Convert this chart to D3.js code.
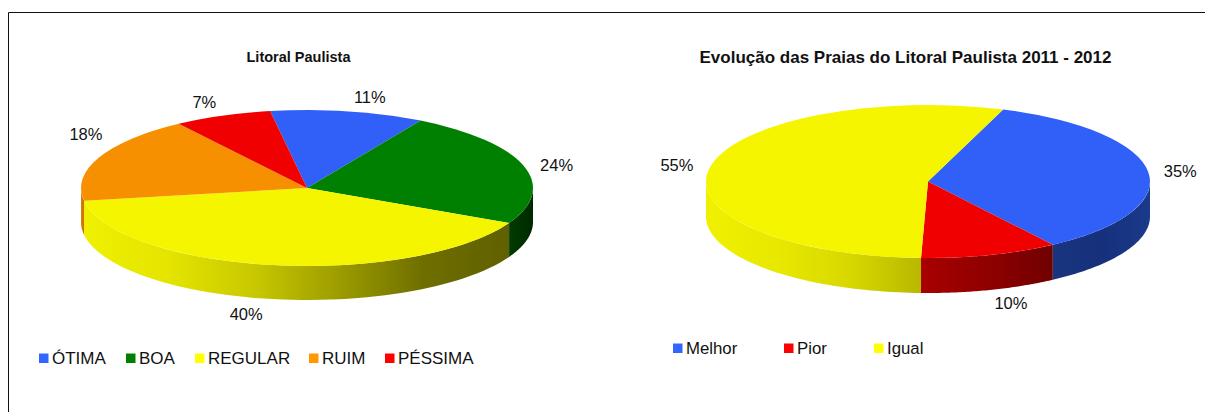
<!DOCTYPE html>
<html>
<head>
<meta charset="utf-8">
<script src="https://cdn.jsdelivr.net/npm/d3@7"></script>
<style>
    html, body { margin: 0; padding: 0; background: #fff; }
    svg { display: block; }
    text { font-family: "Liberation Sans", Arial, sans-serif; fill: #111; }
</style>
</head>
<body>
<svg id="svgid" width="1205" height="412"></svg>
<script>
    // litoral paulista
    var litoralNames = ['ÓTIMA', 'BOA', 'REGULAR', 'RUIM', 'PÉSSIMA'];
    var litoralValues = [11, 24, 40, 18, 7];
    // evolucao 2011 - 2012
    var evolucaoNames = ['Melhor', 'Pior', 'Igual'];
    var evolucaoValues = [35, 10, 55];

    var svg = d3.select('#svgid'),
        defs = svg.append('defs'),
        toRad = Math.PI / 180,
        gradId = 0;

    var colors = {
        'ÓTIMA': '#3060f8', 'BOA': '#008000', 'REGULAR': '#f5f500', 'RUIM': '#f79000', 'PÉSSIMA': '#f00000',
        'Melhor': '#3060f8', 'Pior': '#f00000', 'Igual': '#f5f500'
    };
    var legendColors = {
        'ÓTIMA': '#3366ff', 'BOA': '#008000', 'REGULAR': '#ffff00', 'RUIM': '#ff9900', 'PÉSSIMA': '#ff0000',
        'Melhor': '#3366ff', 'Pior': '#ff0000', 'Igual': '#ffff00'
    };

    // frame of the whole picture, open on the right and at the bottom
    svg.append('path')
        .attr('d', 'M8.5,412V12.5H1205')
        .attr('fill', 'none')
        .attr('stroke', '#111')
        .attr('stroke-width', 1);

    function sideGradient(stops, x0, x1) {
        var id = 'side' + (gradId++),
            g = defs.append('linearGradient')
                .attr('id', id)
                .attr('gradientUnits', 'userSpaceOnUse')
                .attr('x1', x0).attr('x2', x1)
                .attr('y1', 0).attr('y2', 0);
        stops.forEach(function (s, i) {
            g.append('stop')
                .attr('offset', i / (stops.length - 1))
                .attr('stop-color', s);
        });
        return 'url(#' + id + ')';
    }

    function drawPie(opt) {
        var g = svg.append('g'),
            pie = d3.pie().sort(null)
                .startAngle(opt.start * toRad)
                .endAngle((opt.start + 360) * toRad),
            arcs = pie(opt.values),
            rx = opt.rx, ry = opt.ry, cx = opt.cx, cy = opt.cy,
            arc = d3.arc().innerRadius(0).outerRadius(rx);

        function px(a) { return cx + rx * Math.sin(a); }
        function py(a) { return cy - ry * Math.cos(a); }

        // side wall: only the part of the rim that faces the viewer
        arcs.forEach(function (d, i) {
            var lo = Math.max(d.startAngle, Math.PI / 2),
                hi = Math.min(d.endAngle, Math.PI * 1.5);
            if (hi <= lo) return;
            var angles = d3.range(0, 61).map(function (k) { return lo + (hi - lo) * k / 60; }),
                line = d3.line(),
                top = angles.map(function (a) { return [px(a), py(a)]; }),
                bottom = angles.slice().reverse().map(function (a) { return [px(a), py(a) + opt.depth]; }),
                side = opt.sides[i];
            g.append('path')
                .attr('d', line(top.concat(bottom)) + 'Z')
                .attr('fill', sideGradient(side, d3.min(top, function (p) { return p[0]; }), d3.max(top, function (p) { return p[0]; })));
        });

        // top face: a normal arc squashed to an ellipse
        g.append('g')
            .attr('transform', 'translate(' + cx + ',' + cy + ') scale(1,' + (ry / rx) + ')')
            .selectAll('path')
            .data(arcs)
            .enter()
            .append('path')
            .attr('d', arc)
            .attr('fill', function (d, i) { return colors[opt.names[i]]; });

        // percent labels were placed by hand in the original, so nudge from the rim
        arcs.forEach(function (d, i) {
            var mid = (d.startAngle + d.endAngle) / 2,
                front = Math.cos(mid) < 0 ? opt.depth : 0,
                nudge = opt.labelNudge[i];
            g.append('text')
                .attr('x', px(mid) + nudge[0])
                .attr('y', py(mid) + front + nudge[1])
                .attr('dy', '0.35em')
                .attr('text-anchor', 'middle')
                .attr('font-size', 16.5)
                .text(opt.values[i] + '%');
        });

        svg.append('text')
            .attr('x', opt.titleX)
            .attr('y', opt.titleY)
            .attr('text-anchor', 'middle')
            .attr('font-weight', 'bold')
            .attr('font-size', opt.titleSize)
            .text(opt.title);

        // legend
        opt.names.forEach(function (name, i) {
            svg.append('rect')
                .attr('x', opt.legendX[i])
                .attr('y', opt.legendY - 10.5)
                .attr('width', 9.5)
                .attr('height', 9.5)
                .attr('fill', legendColors[name]);
            svg.append('text')
                .attr('x', opt.legendX[i] + 13)
                .attr('y', opt.legendY)
                .attr('font-size', opt.legendSize)
                .text(name);
        });
    }

    drawPie({
        title: 'Litoral Paulista',
        titleX: 298.5,
        titleY: 62,
        titleSize: 14.5,
        names: litoralNames,
        values: litoralValues,
        cx: 307, cy: 188, rx: 226, ry: 78, depth: 34,
        start: -9.4,
        sides: [
            ['#3060f8', '#3060f8'],
            ['#003c00', '#002800'],
            ['#f0f000', '#e4e400', '#c8c800', '#9c9c00', '#6e6e00', '#606000'],
            ['#d88000', '#c87000'],
            ['#800000', '#800000']
        ],
        labelNudge: [[22, -14], [33, 0], [-27, 15], [-13, -23], [-18, -13]],
        legendX: [39, 126, 195, 309, 385],
        legendY: 364,
        legendSize: 17
    });

    drawPie({
        title: 'Evolução das Praias do Litoral Paulista 2011 - 2012',
        titleX: 905.5,
        titleY: 63,
        titleSize: 17,
        names: evolucaoNames,
        values: evolucaoValues,
        cx: 928, cy: 181.5, rx: 222, ry: 76.5, depth: 35,
        start: 19.8,
        sides: [
            ['#1a3580', '#16307c', '#1a3a8a'],
            ['#a80000', '#900000', '#700000'],
            ['#f0f000', '#e8e800', '#d8d800', '#b8b800']
        ],
        labelNudge: [[32, -1], [21, 13], [-33, -2]],
        legendX: [673, 784, 874],
        legendY: 354,
        legendSize: 16.8
    });
</script>
</body>
</html>
